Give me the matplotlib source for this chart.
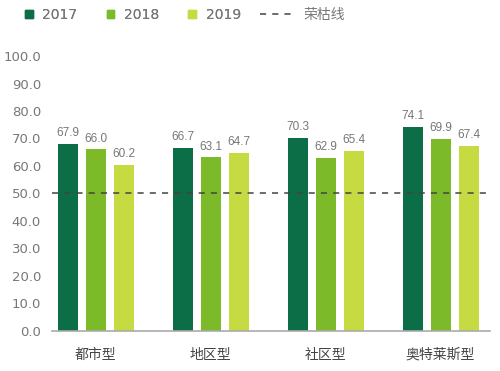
import numpy as np
import matplotlib.pyplot as plt
from matplotlib.patches import Patch
from matplotlib.lines import Line2D

plt.rcParams['font.family'] = ['DejaVu Sans', 'Noto Sans CJK SC']

categorias = ["都市型", "地区型", "社区型", "奥特莱斯型"]
anios = ["2017", "2018", "2019"]
v2017 = [67.9, 66.7, 70.3, 74.1]
v2018 = [66.0, 63.1, 62.9, 69.9]
v2019 = [60.2, 64.7, 65.4, 67.4]
yticks = [0, 10, 20, 30, 40, 50, 60, 70, 80, 90, 100]
linea_valor = 50

colores = ["#0b6e46", "#7cba2a", "#c6da42"]
gris = "#777777"

fig = plt.figure(figsize=(5, 3.71), dpi=100)
ax = fig.add_axes([0.104, 0.108, 0.876, 0.741])

x = np.arange(len(categorias))
ancho = 0.174
paso = 0.243
series = [v2017, v2018, v2019]
for i, (serie, color) in enumerate(zip(series, colores)):
    pos = x + (i - 1) * paso
    ax.bar(pos, serie, width=ancho, color=color, zorder=2)
    for px, v in zip(pos, serie):
        ax.text(px, v + 1.8, f"{v:.1f}", ha="center", va="bottom", fontsize=8.5,
                color=gris, family="Liberation Sans")

ax.axhline(linea_valor, color="#444444", linestyle=(0, (4, 4)), linewidth=1.1, zorder=3)

ax.set_ylim(0, 100)
ax.set_xlim(-0.38, 3.43)
ax.set_yticks(yticks)
ax.set_yticklabels([f"{t:.1f}" for t in yticks])
ax.set_xticks(x)
ax.set_xticklabels(categorias, family=["Noto Sans CJK SC", "DejaVu Sans"])
ax.tick_params(axis="y", length=0, labelsize=9.5, labelcolor=gris, pad=8)
ax.tick_params(axis="x", length=0, labelsize=10, labelcolor="#444444", pad=12)

for lado in ["top", "right", "left"]:
    ax.spines[lado].set_visible(False)
ax.spines["bottom"].set_color("#aaaaaa")
ax.spines["bottom"].set_linewidth(1.2)

# leyenda de barras
parches = [Patch(color=c) for c in colores]
ley1 = fig.legend(parches, anios, loc="center left", bbox_to_anchor=(0.025, 0.96), ncol=3,
                  frameon=False, fontsize=10, handlelength=0.55, handleheight=0.55,
                  handletextpad=0.7, columnspacing=2.1, labelcolor=gris)
linea = [Line2D([], [], color="#444444", linestyle=(0, (4, 4)), linewidth=1.1)]
fig.legend(linea, ["荣枯线"], loc="center left", bbox_to_anchor=(0.495, 0.96),
           frameon=False, handlelength=2.4, handletextpad=0.7,
           labelcolor=gris, prop={"family": ["Noto Sans CJK SC", "DejaVu Sans"], "size": 10})
fig.add_artist(ley1)

plt.savefig("out.png")
